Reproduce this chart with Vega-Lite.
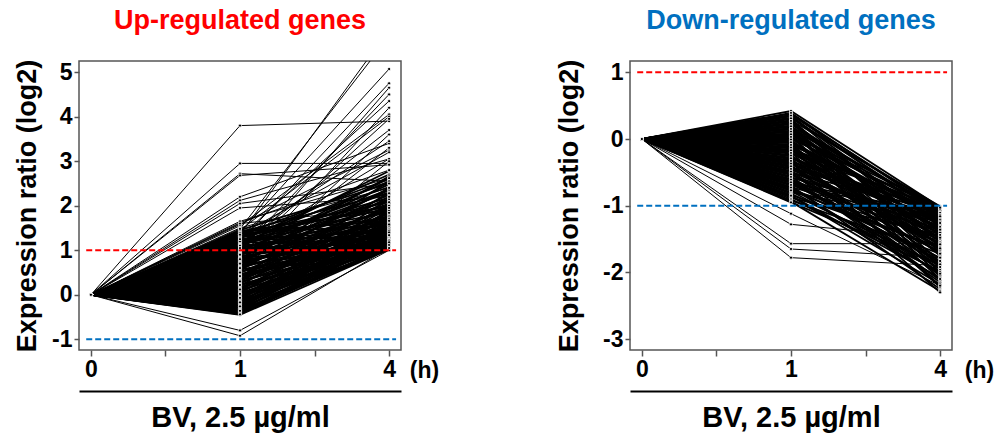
{
"$schema":"https://vega.github.io/schema/vega-lite/v6.json",
"padding":{"left":12,"top":6,"right":5,"bottom":5},
"config":{"font":"Liberation Sans","view":{"stroke":"#555555","strokeWidth":1.5},"title":{"fontSize":27,"fontWeight":"bold","offset":24,"anchor":"middle"}},
"datasets":{
"hrs":[{"k":"h0","hours":0},{"k":"h1","hours":1},{"k":"h4","hours":4}],
"up":[
{"g":1,"h0":0,"h1":-0.45,"h4":1.02},{"g":2,"h0":0,"h1":-0.43,"h4":1.10},{"g":3,"h0":0,"h1":-0.42,"h4":1.35},{"g":4,"h0":0,"h1":-0.40,"h4":1.05},{"g":5,"h0":0,"h1":-0.38,"h4":1.22},{"g":6,"h0":0,"h1":-0.37,"h4":1.55},{"g":7,"h0":0,"h1":-0.35,"h4":1.08},{"g":8,"h0":0,"h1":-0.33,"h4":1.40},{"g":9,"h0":0,"h1":-0.31,"h4":1.15},{"g":10,"h0":0,"h1":-0.30,"h4":1.80},
{"g":11,"h0":0,"h1":-0.28,"h4":1.03},{"g":12,"h0":0,"h1":-0.27,"h4":1.28},{"g":13,"h0":0,"h1":-0.25,"h4":1.62},{"g":14,"h0":0,"h1":-0.23,"h4":1.12},{"g":15,"h0":0,"h1":-0.22,"h4":1.45},{"g":16,"h0":0,"h1":-0.20,"h4":2.05},{"g":17,"h0":0,"h1":-0.18,"h4":1.01},{"g":18,"h0":0,"h1":-0.16,"h4":1.18},{"g":19,"h0":0,"h1":-0.15,"h4":1.50},{"g":20,"h0":0,"h1":-0.13,"h4":1.30},
{"g":21,"h0":0,"h1":-0.11,"h4":1.75},{"g":22,"h0":0,"h1":-0.10,"h4":1.06},{"g":23,"h0":0,"h1":-0.08,"h4":1.38},{"g":24,"h0":0,"h1":-0.06,"h4":1.90},{"g":25,"h0":0,"h1":-0.05,"h4":1.20},{"g":26,"h0":0,"h1":-0.03,"h4":1.58},{"g":27,"h0":0,"h1":-0.01,"h4":1.04},{"g":28,"h0":0,"h1":0.01,"h4":1.33},{"g":29,"h0":0,"h1":0.03,"h4":2.15},{"g":30,"h0":0,"h1":0.04,"h4":1.14},
{"g":31,"h0":0,"h1":0.06,"h4":1.66},{"g":32,"h0":0,"h1":0.08,"h4":1.25},{"g":33,"h0":0,"h1":0.10,"h4":1.95},{"g":34,"h0":0,"h1":0.11,"h4":1.02},{"g":35,"h0":0,"h1":0.13,"h4":1.48},{"g":36,"h0":0,"h1":0.15,"h4":1.72},{"g":37,"h0":0,"h1":0.17,"h4":1.16},{"g":38,"h0":0,"h1":0.19,"h4":2.30},{"g":39,"h0":0,"h1":0.21,"h4":1.36},{"g":40,"h0":0,"h1":0.23,"h4":1.09},
{"g":41,"h0":0,"h1":0.25,"h4":1.85},{"g":42,"h0":0,"h1":0.27,"h4":1.52},{"g":43,"h0":0,"h1":0.29,"h4":1.24},{"g":44,"h0":0,"h1":0.31,"h4":2.02},{"g":45,"h0":0,"h1":0.33,"h4":1.07},{"g":46,"h0":0,"h1":0.35,"h4":1.60},{"g":47,"h0":0,"h1":0.37,"h4":1.42},{"g":48,"h0":0,"h1":0.39,"h4":2.20},{"g":49,"h0":0,"h1":0.41,"h4":1.19},{"g":50,"h0":0,"h1":0.43,"h4":1.78},
{"g":51,"h0":0,"h1":0.45,"h4":1.31},{"g":52,"h0":0,"h1":0.47,"h4":1.03},{"g":53,"h0":0,"h1":0.49,"h4":1.98},{"g":54,"h0":0,"h1":0.51,"h4":1.56},{"g":55,"h0":0,"h1":0.53,"h4":1.27},{"g":56,"h0":0,"h1":0.55,"h4":2.40},{"g":57,"h0":0,"h1":0.57,"h4":1.11},{"g":58,"h0":0,"h1":0.59,"h4":1.68},{"g":59,"h0":0,"h1":0.61,"h4":1.44},{"g":60,"h0":0,"h1":0.63,"h4":2.10},
{"g":61,"h0":0,"h1":0.65,"h4":1.21},{"g":62,"h0":0,"h1":0.67,"h4":1.82},{"g":63,"h0":0,"h1":0.69,"h4":1.05},{"g":64,"h0":0,"h1":0.71,"h4":1.54},{"g":65,"h0":0,"h1":0.73,"h4":2.25},{"g":66,"h0":0,"h1":0.75,"h4":1.34},{"g":67,"h0":0,"h1":0.77,"h4":1.92},{"g":68,"h0":0,"h1":0.79,"h4":1.13},{"g":69,"h0":0,"h1":0.81,"h4":1.70},{"g":70,"h0":0,"h1":0.83,"h4":2.35},
{"g":71,"h0":0,"h1":0.85,"h4":1.47},{"g":72,"h0":0,"h1":0.87,"h4":1.26},{"g":73,"h0":0,"h1":0.89,"h4":2.05},{"g":74,"h0":0,"h1":0.91,"h4":1.62},{"g":75,"h0":0,"h1":0.93,"h4":1.08},{"g":76,"h0":0,"h1":0.95,"h4":1.88},{"g":77,"h0":0,"h1":0.97,"h4":2.48},{"g":78,"h0":0,"h1":0.99,"h4":1.39},{"g":79,"h0":0,"h1":1.01,"h4":1.17},{"g":80,"h0":0,"h1":1.03,"h4":2.12},
{"g":81,"h0":0,"h1":1.05,"h4":1.76},{"g":82,"h0":0,"h1":1.07,"h4":1.51},{"g":83,"h0":0,"h1":1.09,"h4":2.30},{"g":84,"h0":0,"h1":1.11,"h4":1.29},{"g":85,"h0":0,"h1":1.13,"h4":1.96},{"g":86,"h0":0,"h1":1.15,"h4":2.55},{"g":87,"h0":0,"h1":1.17,"h4":1.64},{"g":88,"h0":0,"h1":1.19,"h4":1.10},{"g":89,"h0":0,"h1":1.21,"h4":2.18},{"g":90,"h0":0,"h1":1.23,"h4":1.85},
{"g":91,"h0":0,"h1":1.25,"h4":1.43},{"g":92,"h0":0,"h1":1.27,"h4":2.42},{"g":93,"h0":0,"h1":1.29,"h4":1.99},{"g":94,"h0":0,"h1":1.31,"h4":1.23},{"g":95,"h0":0,"h1":1.33,"h4":2.60},{"g":96,"h0":0,"h1":1.35,"h4":1.72},{"g":97,"h0":0,"h1":1.37,"h4":2.08},{"g":98,"h0":0,"h1":1.39,"h4":1.55},{"g":99,"h0":0,"h1":1.41,"h4":2.28},{"g":100,"h0":0,"h1":1.43,"h4":1.90},
{"g":101,"h0":0,"h1":1.45,"h4":2.50},{"g":102,"h0":0,"h1":0.90,"h4":2.62},{"g":103,"h0":0,"h1":1.20,"h4":2.70},{"g":104,"h0":0,"h1":0.40,"h4":2.55},{"g":105,"h0":0,"h1":1.10,"h4":2.78},{"g":106,"h0":0,"h1":0.70,"h4":2.66},{"g":107,"h0":0,"h1":-0.44,"h4":1.20},{"g":108,"h0":0,"h1":-0.36,"h4":1.02},{"g":109,"h0":0,"h1":-0.26,"h4":1.44},{"g":110,"h0":0,"h1":-0.17,"h4":1.08},
{"g":111,"h0":0,"h1":-0.07,"h4":1.55},{"g":112,"h0":0,"h1":0.02,"h4":1.22},{"g":113,"h0":0,"h1":0.12,"h4":1.84},{"g":114,"h0":0,"h1":0.22,"h4":1.05},{"g":115,"h0":0,"h1":0.32,"h4":1.70},{"g":116,"h0":0,"h1":0.42,"h4":1.32},{"g":117,"h0":0,"h1":0.52,"h4":1.12},{"g":118,"h0":0,"h1":0.62,"h4":1.95},{"g":119,"h0":0,"h1":0.72,"h4":1.40},{"g":120,"h0":0,"h1":0.82,"h4":1.18},
{"g":121,"h0":0,"h1":0.92,"h4":2.15},{"g":122,"h0":0,"h1":1.02,"h4":1.58},{"g":123,"h0":0,"h1":1.12,"h4":2.36},{"g":124,"h0":0,"h1":1.22,"h4":1.34},{"g":125,"h0":0,"h1":1.32,"h4":2.00},{"g":126,"h0":0,"h1":1.42,"h4":1.66},
{"g":127,"h0":0,"h1":3.80,"h4":3.90},{"g":128,"h0":0,"h1":2.95,"h4":2.95},{"g":129,"h0":0,"h1":2.72,"h4":2.55},{"g":130,"h0":0,"h1":2.68,"h4":2.92},{"g":131,"h0":0,"h1":2.20,"h4":3.40},{"g":132,"h0":0,"h1":2.12,"h4":3.05},{"g":133,"h0":0,"h1":2.05,"h4":2.50},{"g":134,"h0":0,"h1":1.95,"h4":2.20},{"g":135,"h0":0,"h1":1.62,"h4":2.80},{"g":136,"h0":0,"h1":1.58,"h4":3.25},
{"g":137,"h0":0,"h1":1.55,"h4":4.05},{"g":138,"h0":0,"h1":1.50,"h4":2.40},{"g":139,"h0":0,"h1":1.65,"h4":2.62},{"g":140,"h0":0,"h1":1.60,"h4":1.95},{"g":141,"h0":0,"h1":1.40,"h4":5.07},{"g":142,"h0":0,"h1":1.20,"h4":4.75},{"g":143,"h0":0,"h1":0.80,"h4":4.65},{"g":144,"h0":0,"h1":1.00,"h4":4.50},{"g":145,"h0":0,"h1":1.30,"h4":4.35},{"g":146,"h0":0,"h1":0.60,"h4":4.20},
{"g":147,"h0":0,"h1":1.45,"h4":4.00},{"g":148,"h0":0,"h1":0.90,"h4":3.95},{"g":149,"h0":0,"h1":1.10,"h4":3.70},{"g":150,"h0":0,"h1":0.50,"h4":3.60},{"g":151,"h0":0,"h1":1.25,"h4":3.45},{"g":152,"h0":0,"h1":0.70,"h4":3.30},{"g":153,"h0":0,"h1":1.35,"h4":3.20},{"g":154,"h0":0,"h1":1.05,"h4":3.05},{"g":155,"h0":0,"h1":0.30,"h4":3.00},{"g":156,"h0":0,"h1":1.48,"h4":5.80},
{"g":157,"h0":0,"h1":1.35,"h4":5.95},{"g":158,"h0":0,"h1":-0.80,"h4":1.00},{"g":159,"h0":0,"h1":-0.92,"h4":1.05}
],
"down":[
{"g":1,"h0":0,"h1":0.42,"h4":-1.02},{"g":2,"h0":0,"h1":0.38,"h4":-1.20},{"g":3,"h0":0,"h1":0.36,"h4":-1.05},{"g":4,"h0":0,"h1":0.34,"h4":-1.45},{"g":5,"h0":0,"h1":0.32,"h4":-1.12},{"g":6,"h0":0,"h1":0.30,"h4":-1.70},{"g":7,"h0":0,"h1":0.28,"h4":-1.01},{"g":8,"h0":0,"h1":0.26,"h4":-1.30},{"g":9,"h0":0,"h1":0.24,"h4":-1.55},{"g":10,"h0":0,"h1":0.22,"h4":-1.08},
{"g":11,"h0":0,"h1":0.20,"h4":-1.85},{"g":12,"h0":0,"h1":0.18,"h4":-1.25},{"g":13,"h0":0,"h1":0.16,"h4":-1.40},{"g":14,"h0":0,"h1":0.14,"h4":-1.03},{"g":15,"h0":0,"h1":0.12,"h4":-2.00},{"g":16,"h0":0,"h1":0.10,"h4":-1.18},{"g":17,"h0":0,"h1":0.08,"h4":-1.60},{"g":18,"h0":0,"h1":0.06,"h4":-1.10},{"g":19,"h0":0,"h1":0.04,"h4":-1.35},{"g":20,"h0":0,"h1":0.02,"h4":-1.75},
{"g":21,"h0":0,"h1":0.00,"h4":-1.04},{"g":22,"h0":0,"h1":-0.02,"h4":-1.50},{"g":23,"h0":0,"h1":-0.04,"h4":-1.22},{"g":24,"h0":0,"h1":-0.06,"h4":-2.10},{"g":25,"h0":0,"h1":-0.08,"h4":-1.15},{"g":26,"h0":0,"h1":-0.10,"h4":-1.65},{"g":27,"h0":0,"h1":-0.12,"h4":-1.42},{"g":28,"h0":0,"h1":-0.14,"h4":-1.06},{"g":29,"h0":0,"h1":-0.16,"h4":-1.90},{"g":30,"h0":0,"h1":-0.18,"h4":-1.28},
{"g":31,"h0":0,"h1":-0.20,"h4":-1.58},{"g":32,"h0":0,"h1":-0.22,"h4":-1.02},{"g":33,"h0":0,"h1":-0.24,"h4":-2.20},{"g":34,"h0":0,"h1":-0.26,"h4":-1.33},{"g":35,"h0":0,"h1":-0.28,"h4":-1.12},{"g":36,"h0":0,"h1":-0.30,"h4":-1.80},{"g":37,"h0":0,"h1":-0.32,"h4":-1.48},{"g":38,"h0":0,"h1":-0.34,"h4":-1.07},{"g":39,"h0":0,"h1":-0.36,"h4":-1.62},{"g":40,"h0":0,"h1":-0.38,"h4":-1.26},
{"g":41,"h0":0,"h1":-0.40,"h4":-2.05},{"g":42,"h0":0,"h1":-0.42,"h4":-1.17},{"g":43,"h0":0,"h1":-0.44,"h4":-1.52},{"g":44,"h0":0,"h1":-0.46,"h4":-1.38},{"g":45,"h0":0,"h1":-0.48,"h4":-1.95},{"g":46,"h0":0,"h1":-0.50,"h4":-1.09},{"g":47,"h0":0,"h1":-0.52,"h4":-1.70},{"g":48,"h0":0,"h1":-0.54,"h4":-1.30},{"g":49,"h0":0,"h1":-0.56,"h4":-2.15},{"g":50,"h0":0,"h1":-0.58,"h4":-1.20},
{"g":51,"h0":0,"h1":-0.60,"h4":-1.55},{"g":52,"h0":0,"h1":-0.62,"h4":-1.40},{"g":53,"h0":0,"h1":-0.64,"h4":-1.85},{"g":54,"h0":0,"h1":-0.66,"h4":-1.13},{"g":55,"h0":0,"h1":-0.68,"h4":-1.68},{"g":56,"h0":0,"h1":-0.70,"h4":-2.25},{"g":57,"h0":0,"h1":-0.72,"h4":-1.35},{"g":58,"h0":0,"h1":-0.74,"h4":-1.78},{"g":59,"h0":0,"h1":-0.76,"h4":-1.50},{"g":60,"h0":0,"h1":-0.78,"h4":-2.00},
{"g":61,"h0":0,"h1":-0.80,"h4":-1.24},{"g":62,"h0":0,"h1":-0.82,"h4":-1.90},{"g":63,"h0":0,"h1":-0.84,"h4":-1.62},{"g":64,"h0":0,"h1":-0.86,"h4":-2.18},{"g":65,"h0":0,"h1":-0.88,"h4":-1.45},{"g":66,"h0":0,"h1":-0.90,"h4":-1.98},{"g":67,"h0":0,"h1":-0.92,"h4":-1.72},{"g":68,"h0":0,"h1":-0.94,"h4":-2.28},{"g":69,"h0":0,"h1":-0.95,"h4":-1.88},{"g":70,"h0":0,"h1":-0.20,"h4":-2.22},
{"g":71,"h0":0,"h1":0.05,"h4":-2.05},{"g":72,"h0":0,"h1":-0.50,"h4":-2.12},{"g":73,"h0":0,"h1":-0.65,"h4":-1.95},{"g":74,"h0":0,"h1":-0.35,"h4":-2.30},{"g":75,"h0":0,"h1":0.15,"h4":-1.92},{"g":76,"h0":0,"h1":-0.85,"h4":-2.08},{"g":77,"h0":0,"h1":-1.12,"h4":-2.20},{"g":78,"h0":0,"h1":-1.28,"h4":-1.50},{"g":79,"h0":0,"h1":-1.57,"h4":-1.57},{"g":80,"h0":0,"h1":-1.65,"h4":-1.78},
{"g":81,"h0":0,"h1":-1.78,"h4":-1.90},{"g":82,"h0":0,"h1":0.39,"h4":-1.10},{"g":83,"h0":0,"h1":0.35,"h4":-1.32},{"g":84,"h0":0,"h1":0.31,"h4":-1.04},{"g":85,"h0":0,"h1":0.27,"h4":-1.62},{"g":86,"h0":0,"h1":0.23,"h4":-1.27},{"g":87,"h0":0,"h1":0.19,"h4":-1.07},{"g":88,"h0":0,"h1":0.15,"h4":-1.50},{"g":89,"h0":0,"h1":0.11,"h4":-1.36},{"g":90,"h0":0,"h1":0.07,"h4":-1.02},
{"g":91,"h0":0,"h1":0.03,"h4":-1.21},{"g":92,"h0":0,"h1":-0.01,"h4":-1.88},{"g":93,"h0":0,"h1":-0.05,"h4":-1.44},{"g":94,"h0":0,"h1":-0.09,"h4":-1.11},{"g":95,"h0":0,"h1":-0.13,"h4":-1.72},{"g":96,"h0":0,"h1":-0.17,"h4":-1.05},{"g":97,"h0":0,"h1":-0.21,"h4":-1.36},{"g":98,"h0":0,"h1":-0.25,"h4":-1.66},{"g":99,"h0":0,"h1":-0.29,"h4":-1.24},{"g":100,"h0":0,"h1":-0.33,"h4":-1.92},
{"g":101,"h0":0,"h1":-0.37,"h4":-1.14},{"g":102,"h0":0,"h1":-0.41,"h4":-1.58},{"g":103,"h0":0,"h1":-0.45,"h4":-1.03},{"g":104,"h0":0,"h1":-0.49,"h4":-1.44},{"g":105,"h0":0,"h1":-0.53,"h4":-1.83},{"g":106,"h0":0,"h1":-0.57,"h4":-1.26},{"g":107,"h0":0,"h1":-0.61,"h4":-2.02},{"g":108,"h0":0,"h1":-0.65,"h4":-1.48},{"g":109,"h0":0,"h1":-0.69,"h4":-1.16},{"g":110,"h0":0,"h1":-0.73,"h4":-2.10},
{"g":111,"h0":0,"h1":-0.77,"h4":-1.64}
]
},
"hconcat":[
{
"width":322,"height":289,
"title":{"text":"Up-regulated genes","color":"#ff0000"},
"encoding":{
 "y":{"field":"v","type":"quantitative","scale":{"domain":[-1.24,5.25],"nice":false,"zero":false},
  "axis":{"values":[-1,0,1,2,3,4,5],"labelExpr":"datum.value+''","domain":false,"grid":false,"tickSize":5,"tickColor":"#555555","tickWidth":1.5,"labelFontSize":23,"labelFontWeight":"bold","labelColor":"black","labelPadding":2,"title":"Expression ratio (log2)","titleFontSize":27,"titleFontWeight":"bold","titleColor":"black","titlePadding":10}}
},
"layer":[
{"data":{"name":"up"},
 "transform":[{"filter":"datum.g<127"},{"fold":["h0","h1","h4"],"as":["k","v"]},{"lookup":"k","from":{"data":{"name":"hrs"},"key":"k","fields":["hours"]}}],
 "mark":{"type":"line","color":"black","strokeWidth":1.8,"clip":true},
 "encoding":{
  "x":{"field":"hours","type":"quantitative","scale":{"type":"sqrt","domain":[-0.0064,4.3264],"nice":false,"zero":false},
   "axis":{"values":[0,0.25,1,2.25,4],"labelExpr":"datum.value==0.25||datum.value==2.25?'':datum.value+''","labelFlush":false,"labelOverlap":false,"domain":false,"grid":false,"tickSize":6,"tickColor":"#555555","tickWidth":1.5,"labelFontSize":23,"labelFontWeight":"bold","labelColor":"black","labelPadding":2,"title":"(h)","titleX":345,"titleY":20,"titleAngle":0,"titleAlign":"center","titleBaseline":"middle","titleFontSize":23,"titleFontWeight":"bold","titleColor":"black"}},
  "detail":{"field":"g"}
 }},
{"data":{"name":"up"},
 "transform":[{"filter":"datum.g>=127"},{"fold":["h0","h1","h4"],"as":["k","v"]},{"lookup":"k","from":{"data":{"name":"hrs"},"key":"k","fields":["hours"]}}],
 "mark":{"type":"line","color":"black","strokeWidth":1,"clip":true},
 "encoding":{
  "x":{"field":"hours","type":"quantitative","axis":null},
  "detail":{"field":"g"}
 }},
{"data":{"name":"up"},
 "transform":[{"fold":["h0","h1","h4"],"as":["k","v"]},{"lookup":"k","from":{"data":{"name":"hrs"},"key":"k","fields":["hours"]}}],
 "mark":{"type":"point","filled":true,"color":"black","stroke":"white","strokeWidth":0.8,"size":10,"opacity":1,"clip":true},
 "encoding":{
  "x":{"field":"hours","type":"quantitative","axis":{"orient":"bottom","offset":41,"domain":true,"domainColor":"black","domainWidth":2,"ticks":false,"labels":false,"grid":false,"title":"BV, 2.5 µg/ml","titleFontSize":29,"titleFontWeight":"bold","titleColor":"black","titlePadding":12}}
 }},
{"data":{"values":[{"v":1,"c":"up"},{"v":-1,"c":"down"}]},
 "mark":{"type":"rule","strokeDash":[6,3],"strokeWidth":2},
 "encoding":{
  "x":{"datum":-0.001,"type":"quantitative","axis":null},
  "x2":{"datum":4.19},
  "color":{"field":"c","type":"nominal","scale":{"domain":["up","down"],"range":["#ff0000","#0070c0"]},"legend":null}
 }}
],
"resolve":{"axis":{"x":"independent"}}
},
{
"width":322,"height":289,
"title":{"text":"Down-regulated genes","color":"#0070c0"},
"encoding":{
 "y":{"field":"v","type":"quantitative","scale":{"domain":[-3.165,1.17],"nice":false,"zero":false},
  "axis":{"values":[-3,-2,-1,0,1],"labelExpr":"datum.value+''","domain":false,"grid":false,"tickSize":5,"tickColor":"#555555","tickWidth":1.5,"labelFontSize":23,"labelFontWeight":"bold","labelColor":"black","labelPadding":2,"title":"Expression ratio (log2)","titleFontSize":27,"titleFontWeight":"bold","titleColor":"black","titlePadding":19}}
},
"layer":[
{"data":{"name":"down"},
 "transform":[{"filter":"datum.g<77||datum.g>81"},{"fold":["h0","h1","h4"],"as":["k","v"]},{"lookup":"k","from":{"data":{"name":"hrs"},"key":"k","fields":["hours"]}}],
 "mark":{"type":"line","color":"black","strokeWidth":1.8,"clip":true},
 "encoding":{
  "x":{"field":"hours","type":"quantitative","scale":{"type":"sqrt","domain":[-0.0064,4.3264],"nice":false,"zero":false},
   "axis":{"values":[0,0.25,1,2.25,4],"labelExpr":"datum.value==0.25||datum.value==2.25?'':datum.value+''","labelFlush":false,"labelOverlap":false,"domain":false,"grid":false,"tickSize":6,"tickColor":"#555555","tickWidth":1.5,"labelFontSize":23,"labelFontWeight":"bold","labelColor":"black","labelPadding":2,"title":"(h)","titleX":349,"titleY":20,"titleAngle":0,"titleAlign":"center","titleBaseline":"middle","titleFontSize":23,"titleFontWeight":"bold","titleColor":"black"}},
  "detail":{"field":"g"}
 }},
{"data":{"name":"down"},
 "transform":[{"filter":"datum.g>=77&&datum.g<=81"},{"fold":["h0","h1","h4"],"as":["k","v"]},{"lookup":"k","from":{"data":{"name":"hrs"},"key":"k","fields":["hours"]}}],
 "mark":{"type":"line","color":"black","strokeWidth":1,"clip":true},
 "encoding":{
  "x":{"field":"hours","type":"quantitative","axis":null},
  "detail":{"field":"g"}
 }},
{"data":{"name":"down"},
 "transform":[{"fold":["h0","h1","h4"],"as":["k","v"]},{"lookup":"k","from":{"data":{"name":"hrs"},"key":"k","fields":["hours"]}}],
 "mark":{"type":"point","filled":true,"color":"black","stroke":"white","strokeWidth":0.8,"size":10,"opacity":1,"clip":true},
 "encoding":{
  "x":{"field":"hours","type":"quantitative","axis":{"orient":"bottom","offset":41,"domain":true,"domainColor":"black","domainWidth":2,"ticks":false,"labels":false,"grid":false,"title":"BV, 2.5 µg/ml","titleFontSize":29,"titleFontWeight":"bold","titleColor":"black","titlePadding":12}}
 }},
{"data":{"values":[{"v":1,"c":"up"},{"v":-1,"c":"down"}]},
 "mark":{"type":"rule","strokeDash":[6,3],"strokeWidth":2},
 "encoding":{
  "x":{"datum":-0.001,"type":"quantitative","axis":null},
  "x2":{"datum":4.19},
  "color":{"field":"c","type":"nominal","scale":{"domain":["up","down"],"range":["#ff0000","#0070c0"]},"legend":null}
 }}
],
"resolve":{"axis":{"x":"independent"}}
}
],
"spacing":229,
"bounds":"flush",
"resolve":{"scale":{"color":"independent"}}
}
